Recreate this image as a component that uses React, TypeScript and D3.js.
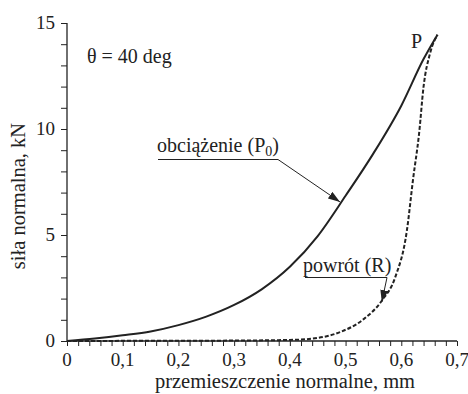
import React, { useEffect, useRef } from "react";
import * as d3 from "d3";

// loading curve (solid)
const loadX = [0, 0.05, 0.1, 0.15, 0.2, 0.25, 0.3, 0.35, 0.4, 0.45, 0.5, 0.55, 0.6, 0.64, 0.665];
const loadY = [0, 0.12, 0.27, 0.45, 0.75, 1.15, 1.7, 2.45, 3.5, 4.95, 6.85, 8.85, 11.1, 13.3, 14.45];

// return curve (dashed)
const backX = [0, 0.15, 0.3, 0.4, 0.449, 0.49, 0.531, 0.565, 0.589, 0.61, 0.621, 0.632, 0.64, 0.652, 0.665];
const backY = [0, 0.01, 0.02, 0.05, 0.14, 0.42, 1.0, 1.9, 3.0, 5.2, 7.6, 9.8, 12.0, 13.6, 14.45];

const xTickLabels = ["0", "0,1", "0,2", "0,3", "0,4", "0,5", "0,6", "0,7"];
const yTickValues = [0, 5, 10, 15];

const App = () => {
  const svgRef = useRef<SVGSVGElement>(null);
  const width = 468, height = 394;
  const font = "'Liberation Serif', serif";

  useEffect(() => {
    const svg = d3.select(svgRef.current);
    svg.selectAll("*").remove();

    const x = d3.scaleLinear().domain([0, 0.7]).range([67, 457]);
    const y = d3.scaleLinear().domain([0, 15]).range([341, 23]);

    // arrow head
    svg.append("defs").append("marker")
      .attr("id", "arr")
      .attr("viewBox", "0 0 12 8")
      .attr("refX", 12)
      .attr("refY", 4)
      .attr("markerWidth", 12)
      .attr("markerHeight", 8)
      .attr("markerUnits", "userSpaceOnUse")
      .attr("orient", "auto")
      .append("path")
      .attr("d", "M0,0 L12,4 L0,8 Z")
      .attr("fill", "#222");

    // axes
    const xAxis = d3.axisBottom(x)
      .tickValues(d3.range(0, 36).map(i => i * 0.02))
      .tickSize(5)
      .tickFormat(() => "");
    const gx = svg.append("g").attr("transform", `translate(0,${y(0)})`).call(xAxis);
    gx.select(".domain").attr("d", `M${x(0)},0H${x(0.7)}`).attr("stroke", "#222").attr("stroke-width", 1.3);
    gx.selectAll(".tick line").attr("stroke", "#222");

    const yAxis = d3.axisLeft(y)
      .tickValues(d3.range(0, 16))
      .tickSize(6)
      .tickFormat(() => "");
    const gy = svg.append("g").attr("transform", `translate(${x(0)},0)`).call(yAxis);
    gy.select(".domain").attr("d", `M0,${y(0)}V${y(15)}`).attr("stroke", "#222").attr("stroke-width", 1.3);
    gy.selectAll(".tick line").attr("stroke", "#222");

    // tick labels
    svg.append("g").selectAll("text")
      .data(xTickLabels)
      .join("text")
      .attr("x", (_, i) => x(i * 0.1))
      .attr("y", 366)
      .attr("text-anchor", "middle")
      .style("font-family", font)
      .style("font-size", "19px")
      .attr("fill", "#222")
      .text(d => d);

    svg.append("g").selectAll("text")
      .data(yTickValues)
      .join("text")
      .attr("x", 55)
      .attr("y", d => y(d) + 6)
      .attr("text-anchor", "end")
      .style("font-family", font)
      .style("font-size", "19px")
      .attr("fill", "#222")
      .text(d => d);

    // curves
    const line = d3.line<[number, number]>()
      .x(d => x(d[0]))
      .y(d => y(d[1]))
      .curve(d3.curveMonotoneX);

    svg.append("path")
      .datum(loadX.map((v, i) => [v, loadY[i]] as [number, number]))
      .attr("fill", "none")
      .attr("stroke", "#222")
      .attr("stroke-width", 2)
      .attr("d", line);

    svg.append("path")
      .datum(backX.map((v, i) => [v, backY[i]] as [number, number]))
      .attr("fill", "none")
      .attr("stroke", "#222")
      .attr("stroke-width", 2)
      .attr("stroke-dasharray", "4,2")
      .attr("d", line);

    // annotations
    const ann = (txt: string, sub: string | null, tx: number, ty: number, ux0: number, ux1: number, uy: number, ax: number, ay: number) => {
      const t = svg.append("text")
        .attr("x", tx)
        .attr("y", ty)
        .style("font-family", font)
        .style("font-size", "20px")
        .attr("fill", "#222");
      t.append("tspan").text(txt);
      if (sub) {
        t.append("tspan").attr("dy", 4).style("font-size", "14px").text(sub);
        t.append("tspan").attr("dy", -4).text(")");
      }
      svg.append("line")
        .attr("x1", ux0).attr("y1", uy).attr("x2", ux1).attr("y2", uy)
        .attr("stroke", "#222").attr("stroke-width", 1);
      svg.append("line")
        .attr("x1", ux1).attr("y1", uy).attr("x2", ax).attr("y2", ay)
        .attr("stroke", "#222").attr("stroke-width", 1)
        .attr("marker-end", "url(#arr)");
    };
    ann("obciążenie (P", "0", 157, 152, 158, 278, 159.5, x(0.49), y(6.56));
    ann("powrót (R)", null, 303, 272, 305, 387, 277.5, x(0.565), y(1.84));

    svg.append("text")
      .attr("x", 87).attr("y", 63)
      .style("font-family", font).style("font-size", "20px").attr("fill", "#222")
      .text("θ = 40 deg");

    svg.append("text")
      .attr("x", 411).attr("y", 48)
      .style("font-family", font).style("font-size", "20px").attr("fill", "#222")
      .text("P");

    // axis titles
    svg.append("text")
      .attr("x", 285)
      .attr("y", 388)
      .attr("text-anchor", "middle")
      .style("font-family", font).style("font-size", "20.5px").attr("fill", "#222")
      .text("przemieszczenie normalne, mm");

    svg.append("text")
      .attr("transform", "translate(25,196) rotate(-90)")
      .attr("text-anchor", "middle")
      .style("font-family", font).style("font-size", "20.5px").attr("fill", "#222")
      .text("siła normalna, kN");
  }, []);

  return <svg ref={svgRef} width={width} height={height} style={{ position: "absolute", left: 0, top: 0 }}></svg>;
};

export default App;
